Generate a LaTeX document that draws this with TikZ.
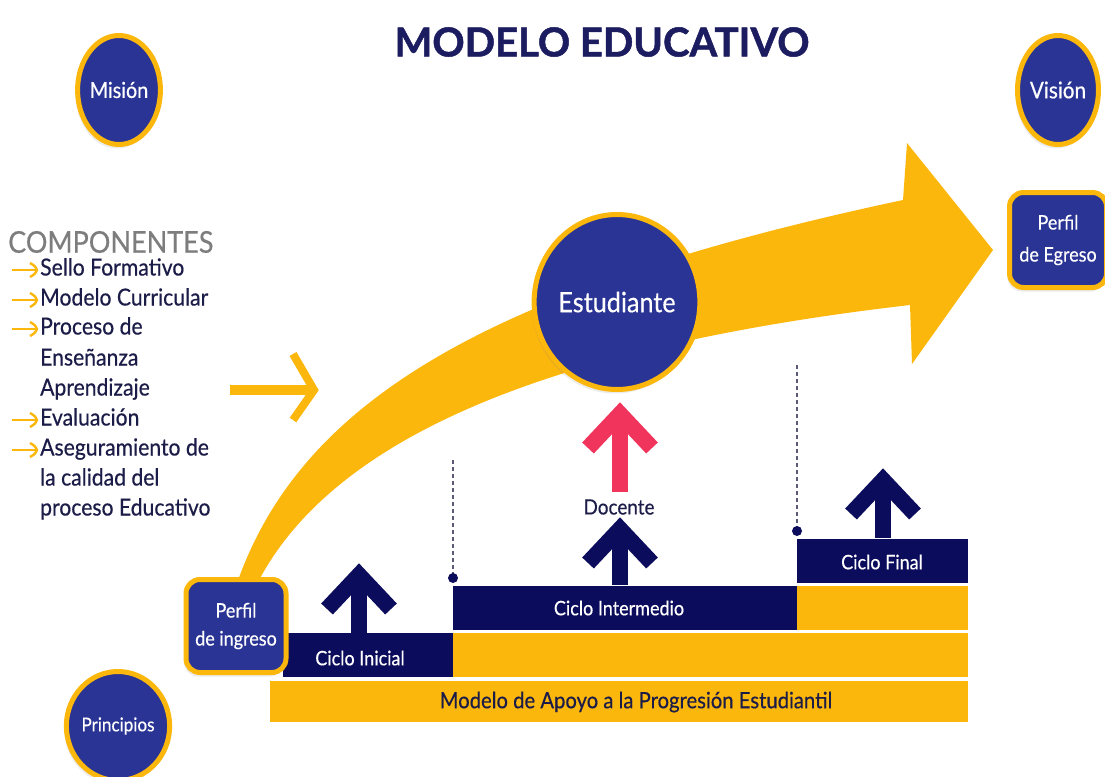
\documentclass[tikz,border=0pt]{standalone}
\usepackage{fontspec}
\setmainfont{Lato}
\newfontfamily\narrowfont[FakeStretch=0.9,FakeBold=0.4]{Lato}
\newfontfamily\heavyfont[FakeBold=1.2]{Lato}
\usetikzlibrary{shapes.geometric,shadows}
\definecolor{yel}{RGB}{252,183,12}
\definecolor{navy}{RGB}{12,12,92}
\definecolor{cblue}{RGB}{42,52,148}
\definecolor{txt}{RGB}{28,28,72}
\definecolor{pinkc}{RGB}{240,52,92}
\definecolor{grayt}{RGB}{125,125,125}
\definecolor{titlec}{RGB}{28,28,96}
\definecolor{dashc}{RGB}{90,90,120}
\begin{document}
\begin{tikzpicture}[x=1pt,y=-1pt,
  circ/.style={ellipse, fill=cblue, draw=yel, line width=5pt, inner sep=0pt, text=white,
    drop shadow={opacity=0.15, shadow xshift=-2pt, shadow yshift=-4pt}},
  pbox/.style={rectangle, rounded corners=14pt, fill=cblue, draw=yel, line width=5pt, inner sep=0pt,
    text=white, align=center, drop shadow={opacity=0.15, shadow xshift=-2pt, shadow yshift=-4pt}},
  navybar/.style={rectangle, fill=navy, inner sep=0pt, anchor=north west},
  yelbar/.style={rectangle, fill=yel, inner sep=0pt, anchor=north west},
  barlabel/.style={text=white, font=\narrowfont\fontsize{20}{20}\selectfont},
  listtxt/.style={anchor=west, inner sep=0pt, text=txt, font=\narrowfont\fontsize{23.5}{23.5}\selectfont,
    text height=16pt, text depth=5pt},
  listarr/.style={draw=yel, line width=2.4pt},
  dashl/.style={draw=dashc, line width=1.2pt, dash pattern=on 4pt off 3pt},
  uparr/.pic={
    \draw[line width=16pt, line join=miter] (-32,34) -- (0,0) -- (32,34);
    \draw[line width=16pt] (0,-2) -- (0,#1);
  }
]
\useasboundingbox (0,0) rectangle (1105,776);
\fill[white] (0,0) rectangle (1105,776);

% big curved yellow arrow
\fill[yel] (234,592) .. controls (295,405) and (480,290) .. (903,200)
  -- (907,143) -- (993,250) -- (912,364) -- (910,305)
  .. controls (520,350) and (320,450) .. (253,592) -- cycle;

% title
\node[font=\heavyfont\fontsize{40}{40}\selectfont\bfseries, text=titlec] (title) at (602,42) {MODELO EDUCATIVO};

% circles
\node[circ, minimum width=79pt, minimum height=109pt, font=\narrowfont\fontsize{22}{22}\selectfont] (mision) at (119,90) {Misión};
\node[circ, minimum width=81pt, minimum height=109pt, font=\narrowfont\fontsize{23}{23}\selectfont] (vision) at (1058,90) {Visión};
\node[circ, minimum width=79pt, minimum height=109pt, font=\narrowfont\fontsize{19}{19}\selectfont] (principios) at (118,726) {Principios};
\node[circ, minimum width=129pt, minimum height=175pt, font=\narrowfont\fontsize{28}{28}\selectfont] (estudiante) at (617,302) {Estudiante};

\node[pbox, minimum width=97pt, minimum height=95pt, font=\narrowfont\fontsize{20}{32}\selectfont] (egreso) at (1058,240) {Perfil\\de Egreso};

% componentes
\node[anchor=west, inner sep=0pt, text=grayt, font=\narrowfont\fontsize{30}{30}\selectfont] (comp) at (8,242) {COMPONENTES};
\foreach \yy/\tt [count=\i] in {270/Sello Formativo, 300/Modelo Curricular, 329/Proceso de, 360/Enseñanza, 390/Aprendizaje, 420/Evaluación, 450/Aseguramiento de, 480/la calidad del, 510/proceso Educativo}{
  \node[listtxt] (li\i) at (40,\yy) {\tt};
}
\foreach \i in {1,2,3,6,7}{
  \draw[listarr] ([xshift=-28pt]li\i.west) -- ([xshift=-4pt]li\i.west);
  \draw[listarr, line join=round] ([xshift=-10pt,yshift=7pt]li\i.west) .. controls ([xshift=-5pt,yshift=4pt]li\i.west) .. ([xshift=-3pt]li\i.west)
     .. controls ([xshift=-5pt,yshift=-4pt]li\i.west) .. ([xshift=-10pt,yshift=-7pt]li\i.west);
}

% big outline arrow
\coordinate (ba1) at (230,390);
\coordinate (ba2) at (312,390);
\draw[yel, line width=10pt] (ba1) -- (ba2);
\draw[yel, line width=8pt, line join=miter] (293,354) -- (314,390) -- (293,420);

% bars
\node[yelbar, minimum width=698pt, minimum height=41pt] (apoyo) at (270,681) {};
\node[navybar, minimum width=170pt, minimum height=44pt] (inicial) at (283,633) {};
\node[yelbar, minimum width=515pt, minimum height=44pt] (y2) at (453,633) {};
\node[navybar, minimum width=344pt, minimum height=44pt] (intermedio) at (453,586) {};
\node[yelbar, minimum width=171pt, minimum height=44pt] (y3) at (797,586) {};
\node[navybar, minimum width=171pt, minimum height=44pt] (final) at (797,539) {};

\node[barlabel] (tinicial) at (360,658) {Ciclo Inicial};
\node[barlabel] (tinter) at (619,608) {Ciclo Intermedio};
\node[barlabel] (tfinal) at (882,562) {Ciclo Final};
\node[text=txt, font=\narrowfont\fontsize{22.5}{22.5}\selectfont] (tapoyo) at (636,702) {Modelo de Apoyo a la Progresión Estudiantil};

% dashed markers
\coordinate (d1t) at (453,460);
\coordinate (d1b) at (453,578);
\coordinate (d2t) at (797,365);
\coordinate (d2b) at (797,531);
\draw[dashl] (d1t) -- (d1b);
\draw[dashl] (d2t) -- (d2b);
\fill[navy] (d1b) circle (5pt);
\fill[navy] (d2b) circle (5pt);

% up arrows
\pic[navy] at (359,575) {uparr=58};
\pic[navy] at (620,529) {uparr=56};
\pic[pinkc] at (620,414) {uparr=78};
\pic[navy] at (883,480) {uparr=58};
\node[text=txt, font=\narrowfont\fontsize{21}{21}\selectfont] (docente) at (619,507) {Docente};

% perfil de ingreso (on top)
\node[pbox, minimum width=100pt, minimum height=93pt, font=\narrowfont\fontsize{20}{28}\selectfont] (ingreso) at (236,626) {Perfil\\de ingreso};
\end{tikzpicture}
\end{document}
